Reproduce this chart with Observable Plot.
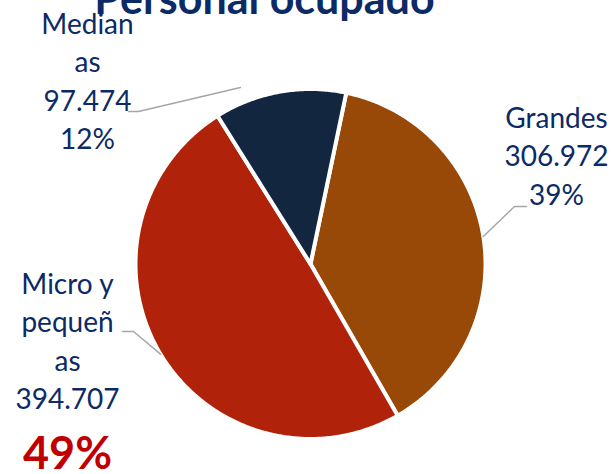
<!DOCTYPE html>
<html><head><meta charset="utf-8">
<script src="https://cdn.jsdelivr.net/npm/d3@7"></script>
<script src="https://cdn.jsdelivr.net/npm/@observablehq/plot@0.6"></script>
<style>body{margin:0;background:#fff;overflow:hidden}</style>
</head><body><div id="chart"></div>
<script>
// ---- data ----
const title = "Personal ocupado";
const categories = ["Grandes", "Micro y pequeñas", "Medianas"];
const values = [306972, 394707, 97474];
const valueLabels = ["306.972", "394.707", "97.474"];
const percentLabels = ["39%", "49%", "12%"];
const nameLines = [["Grandes"], ["Micro y", "pequeñ", "as"], ["Median", "as"]];
const colors = ["#984807", "#B0230A", "#12263F"];

// ---- layout (pixels) ----
const W = 613, H = 474, CX = 310, CY = 263.5, R = 175;
const startDeg = 11.8;
const lineH = 38.5, labelSize = 28, bigSize = 45;
const labelLayout = {
  "Grandes":          {x: 556, top: 127, elbow: [[526, 206], [514, 206]]},
  "Micro y pequeñas": {x: 67,  top: 293, elbow: [[122, 331], [133, 331]]},
  "Medianas":         {x: 87,  top: 33,  elbow: [[128, 111], [138, 111]]}
};
const leaderStart = {"Grandes": [0, 1.0], "Micro y pequeñas": [0, 1.0], "Medianas": [-11.5, 1.085]};

const ux = px => (px - CX) / R, uy = py => (py - CY) / R;
const rad = d => d * Math.PI / 180;

// ---- slices ----
const data = categories.map((c, i) => ({name: c, value: values[i]}));
const arcs = d3.pie().sort(null).value(d => d.value)
  .startAngle(rad(startDeg)).endAngle(rad(startDeg) + 2 * Math.PI)(data);
const slicePts = [];
for (const a of arcs) {
  slicePts.push({name: a.data.name, x: 0, y: 0});
  const n = Math.max(8, Math.ceil((a.endAngle - a.startAngle) / 0.01));
  for (let k = 0; k <= n; k++) {
    const t = a.startAngle + (a.endAngle - a.startAngle) * k / n;
    slicePts.push({name: a.data.name, x: Math.sin(t), y: -Math.cos(t)});
  }
  slicePts.push({name: a.data.name, x: 0, y: 0});
}

// ---- labels ----
const textRows = [], bigRows = [], leaderPts = [];
categories.forEach((c, i) => {
  const L = labelLayout[c];
  const lines = [...nameLines[i], valueLabels[i]];
  const isBig = c === "Micro y pequeñas";
  if (!isBig) lines.push(percentLabels[i]);
  lines.forEach((t, k) => {
    const base = L.top + k * lineH;
    textRows.push({x: ux(L.x), y: uy(base - 0.32 * labelSize), text: t});
  });
  if (isBig) {
    const base = L.top + lines.length * lineH + 21;
    bigRows.push({x: ux(L.x), y: uy(base - 0.32 * bigSize), text: percentLabels[i]});
  }
  const a = arcs[i];
  const mid = (a.startAngle + a.endAngle) / 2 + rad(leaderStart[c][0]);
  const rr = leaderStart[c][1];
  for (const p of L.elbow) leaderPts.push({name: c, x: ux(p[0]), y: uy(p[1])});
  leaderPts.push({name: c, x: rr * Math.sin(mid), y: -rr * Math.cos(mid)});
});

const chart = Plot.plot({
  width: W, height: H, margin: 0,
  style: {fontFamily: "Lato, 'Open Sans', sans-serif", background: "#fff"},
  x: {domain: [ux(0), ux(W)], axis: null},
  y: {domain: [uy(0), uy(H)], range: [0, H], axis: null},
  color: {domain: categories, range: colors},
  marks: [
    Plot.line(slicePts, {x: "x", y: "y", z: "name", fill: "name", stroke: "white", strokeWidth: 4, strokeLinejoin: "round", curve: "linear"}),
    Plot.line(leaderPts, {x: "x", y: "y", z: "name", stroke: "#A6A6A6", strokeWidth: 1.5}),
    Plot.text(textRows, {x: "x", y: "y", text: "text", fill: "#0B2A66", fontSize: labelSize, textAnchor: "middle"}),
    Plot.text(bigRows, {x: "x", y: "y", text: "text", fill: "#C00000", fontSize: bigSize, fontWeight: "bold", textAnchor: "middle"}),
    Plot.text([title], {x: ux(264), y: uy(13 - 0.32 * 43), text: d => d, fill: "#0B2A66", fontSize: 43, fontWeight: "bold", textAnchor: "middle"})
  ]
});
document.getElementById("chart").appendChild(chart);
</script>
</body></html>
